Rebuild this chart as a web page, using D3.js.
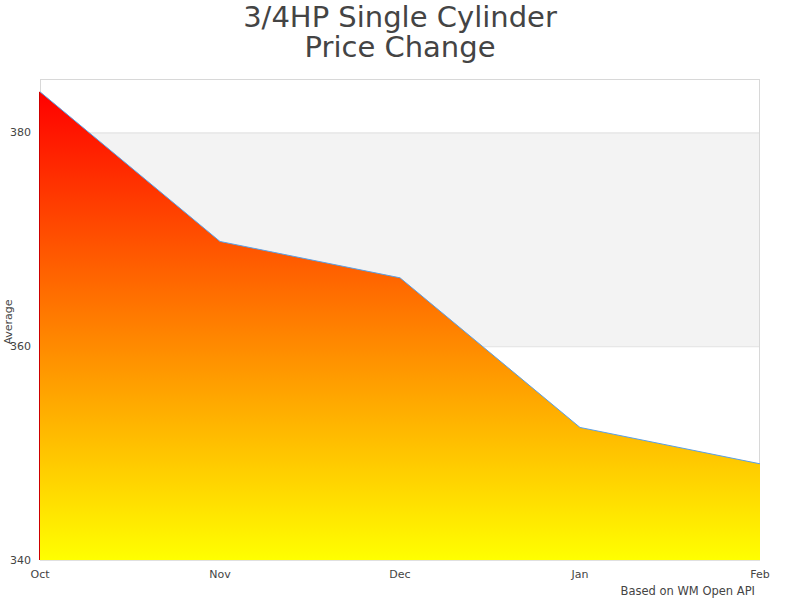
<!DOCTYPE html>
<html lang="en">
<head>
<script src="https://d3js.org/d3.v7.min.js"></script>
<style>
body { margin: 0; background: #fff; }
text { font-family: "DejaVu Sans", sans-serif; fill: #444; }
</style>
</head>
<body>
<svg width="800" height="600"></svg>
<script>
var months = ["Oct", "Nov", "Dec", "Jan", "Feb"];
var averages = [383.8, 369.8, 366.4, 352.4, 349.0];
var yTicks = [340, 360, 380];

var svg = d3.select("svg");
var plotLeft = 40, plotRight = 760, plotTop = 79, plotBottom = 560;

var x = d3.scalePoint().domain(months).range([plotLeft, plotRight]);
var y = d3.scaleLinear().domain([340, 385]).range([plotBottom, plotTop]);

var data = months.map(function(m, i) { return { month: m, value: averages[i] }; });

var defs = svg.append("defs");
var grad = defs.append("linearGradient")
  .attr("id", "fade")
  .attr("x1", 0).attr("y1", 0).attr("x2", 0).attr("y2", 1);
grad.append("stop").attr("offset", "0%").attr("stop-color", "#ff0000");
grad.append("stop").attr("offset", "100%").attr("stop-color", "#ffff00");

// alternating band
svg.append("rect")
  .attr("x", plotLeft).attr("y", y(380))
  .attr("width", plotRight - plotLeft).attr("height", y(360) - y(380))
  .attr("fill", "#f3f3f3");

// grid lines
svg.selectAll(".grid")
  .data(yTicks)
  .enter().append("line")
  .attr("x1", plotLeft).attr("x2", plotRight)
  .attr("y1", function(d) { return y(d) + 0.5; })
  .attr("y2", function(d) { return y(d) + 0.5; })
  .attr("stroke", "#e0e0e0");

svg.append("rect")
  .attr("x", plotLeft + 0.5).attr("y", plotTop + 0.5)
  .attr("width", plotRight - plotLeft - 1).attr("height", plotBottom - plotTop - 1)
  .attr("fill", "none")
  .attr("stroke", "#d8d8d8");

var area = d3.area()
  .x(function(d) { return x(d.month); })
  .y0(y(340))
  .y1(function(d) { return y(d.value); });

svg.append("path")
  .datum(data)
  .attr("d", area)
  .attr("fill", "url(#fade)");

svg.append("line")
  .attr("x1", plotLeft - 0.5).attr("x2", plotLeft - 0.5)
  .attr("y1", y(averages[0])).attr("y2", plotBottom)
  .attr("stroke", "#cc0000")
  .attr("stroke-width", 1);

var line = d3.line()
  .x(function(d) { return x(d.month); })
  .y(function(d) { return y(d.value); });

svg.append("path")
  .datum(data)
  .attr("d", line)
  .attr("fill", "none")
  .attr("stroke", "#5aa0e6")
  .attr("stroke-width", 1);

// y axis labels
svg.selectAll(".ytick")
  .data(yTicks)
  .enter().append("text")
  .attr("x", 31)
  .attr("y", function(d) { return y(d) + 4; })
  .attr("text-anchor", "end")
  .attr("font-size", "11px")
  .text(function(d) { return d; });

// x axis labels
svg.selectAll(".xtick")
  .data(months)
  .enter().append("text")
  .attr("x", function(d) { return x(d); })
  .attr("y", 578)
  .attr("text-anchor", "middle")
  .attr("font-size", "11px")
  .text(function(d) { return d; });

svg.append("text")
  .attr("transform", "translate(12,322) rotate(-90)")
  .attr("text-anchor", "middle")
  .attr("font-size", "11px")
  .text("Average");

svg.append("text")
  .attr("x", 400).attr("y", 27)
  .attr("text-anchor", "middle")
  .attr("font-size", "29px")
  .text("3/4HP Single Cylinder");
svg.append("text")
  .attr("x", 400).attr("y", 57)
  .attr("text-anchor", "middle")
  .attr("font-size", "29px")
  .text("Price Change");

svg.append("text")
  .attr("x", 755).attr("y", 595)
  .attr("text-anchor", "end")
  .attr("font-size", "11.5px")
  .text("Based on WM Open API");
</script>
</body>
</html>
